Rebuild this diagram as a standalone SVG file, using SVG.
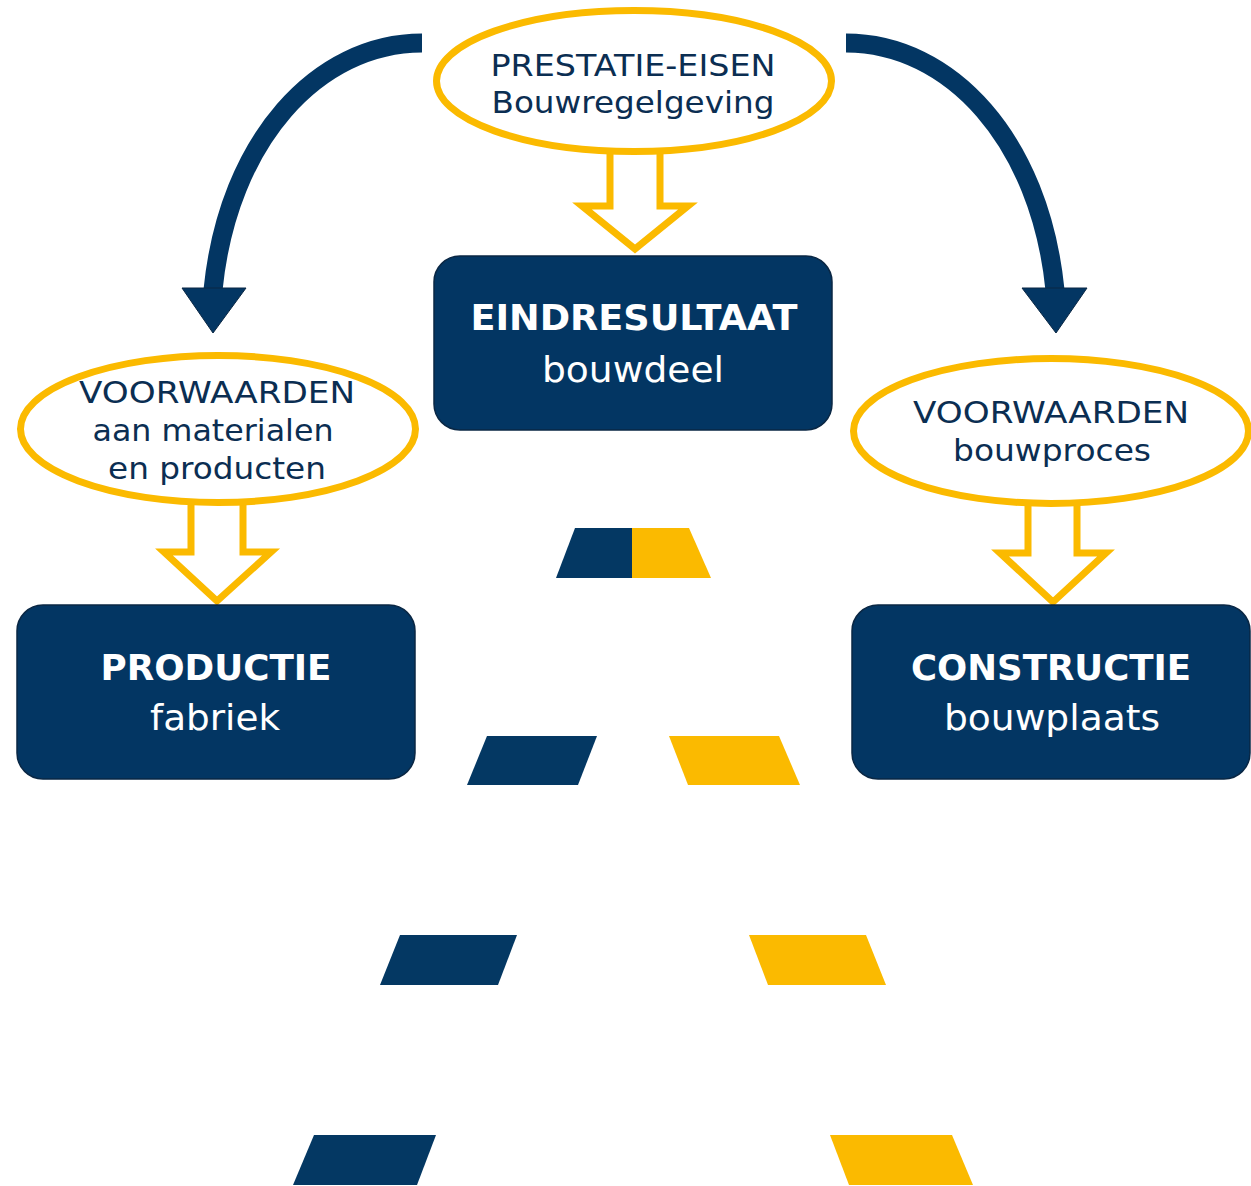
<svg xmlns="http://www.w3.org/2000/svg" width="1251" height="1186" viewBox="0 0 1251 1186">
<defs>
<style>
.box{fill:#033663;stroke:#0a2744;stroke-width:1.5}
.ell{fill:#ffffff;stroke:#FBBA00;stroke-width:7}
.hollow{fill:#ffffff;stroke:#FBBA00;stroke-width:7;stroke-linejoin:miter}
.curve{fill:none;stroke:#033663;stroke-width:19}
.head{fill:#033663;stroke:#0a2744;stroke-width:1}
.blue{fill:#043863}
.yel{fill:#FBBA00}
.et{font-family:"DejaVu Sans",sans-serif;font-size:31px;fill:#0b2e52;text-anchor:middle}
.bt{font-family:"DejaVu Sans",sans-serif;font-size:35px;font-weight:bold;fill:#ffffff;text-anchor:middle}
.rt{font-family:"DejaVu Sans",sans-serif;font-size:36px;fill:#ffffff;text-anchor:middle}
</style>
</defs>
<rect width="1251" height="1186" fill="#ffffff"/>
<g id="connectors">
<path class="curve" d="M422,43 C318,43 228,140 213,290"/>
<polygon class="head" points="182,288 246,288 213,333"/>
<path class="curve" d="M846,43 C950,43 1040,140 1055,290"/>
<polygon class="head" points="1022,288 1087,288 1056,333"/>
<polygon class="hollow" points="610,145 660,145 660,206 688,206 635,249 582,206 610,206"/>
<polygon class="hollow" points="191,490 243,490 243,552 271,552 217,601 164,552 191,552"/>
<polygon class="hollow" points="1028,490 1077,490 1077,553 1106,553 1053,602 1000,553 1028,553"/>
</g>
<g id="prestatie-eisen">
<ellipse class="ell" cx="634" cy="81" rx="197.5" ry="70.5"/>
<text class="et" x="633" y="76" textLength="285" lengthAdjust="spacingAndGlyphs">PRESTATIE-EISEN</text>
<text class="et" x="633" y="113" textLength="283" lengthAdjust="spacingAndGlyphs">Bouwregelgeving</text>
</g>
<g id="eindresultaat">
<rect class="box" x="434" y="256" width="398" height="174" rx="26"/>
<text class="bt" x="634" y="330" textLength="327" lengthAdjust="spacingAndGlyphs">EINDRESULTAAT</text>
<text class="rt" x="633" y="382" textLength="182" lengthAdjust="spacingAndGlyphs">bouwdeel</text>
</g>
<g id="voorwaarden-materialen">
<ellipse class="ell" cx="218" cy="429" rx="197.5" ry="73.5"/>
<text class="et" x="217" y="403" textLength="276" lengthAdjust="spacingAndGlyphs">VOORWAARDEN</text>
<text class="et" x="213" y="441" textLength="241" lengthAdjust="spacingAndGlyphs">aan materialen</text>
<text class="et" x="217" y="479" textLength="218" lengthAdjust="spacingAndGlyphs">en producten</text>
</g>
<g id="voorwaarden-bouwproces">
<ellipse class="ell" cx="1051" cy="431" rx="197.5" ry="72.5"/>
<text class="et" x="1051" y="423" textLength="276" lengthAdjust="spacingAndGlyphs">VOORWAARDEN</text>
<text class="et" x="1052" y="461" textLength="198" lengthAdjust="spacingAndGlyphs">bouwproces</text>
</g>
<g id="productie">
<rect class="box" x="17" y="605" width="398" height="174" rx="26"/>
<text class="bt" x="216" y="680" textLength="231" lengthAdjust="spacingAndGlyphs">PRODUCTIE</text>
<text class="rt" x="215" y="730" textLength="130" lengthAdjust="spacingAndGlyphs">fabriek</text>
</g>
<g id="constructie">
<rect class="box" x="852" y="605" width="398" height="174" rx="26"/>
<text class="bt" x="1051" y="680" textLength="280" lengthAdjust="spacingAndGlyphs">CONSTRUCTIE</text>
<text class="rt" x="1052" y="730" textLength="216" lengthAdjust="spacingAndGlyphs">bouwplaats</text>
</g>
<g id="road">
<polygon class="blue" points="575,528 632,528 632,578 556,578"/>
<polygon class="yel" points="632,528 689,528 711,578 632,578"/>
<polygon class="blue" points="487,736 597,736 578,785 467,785"/>
<polygon class="yel" points="669,736 779,736 800,785 688,785"/>
<polygon class="blue" points="400,935 517,935 498,985 380,985"/>
<polygon class="yel" points="749,935 866,935 886,985 768,985"/>
<polygon class="blue" points="314,1135 436,1135 417,1185 293,1185"/>
<polygon class="yel" points="830,1135 952,1135 973,1185 849,1185"/>
</g>
</svg>
